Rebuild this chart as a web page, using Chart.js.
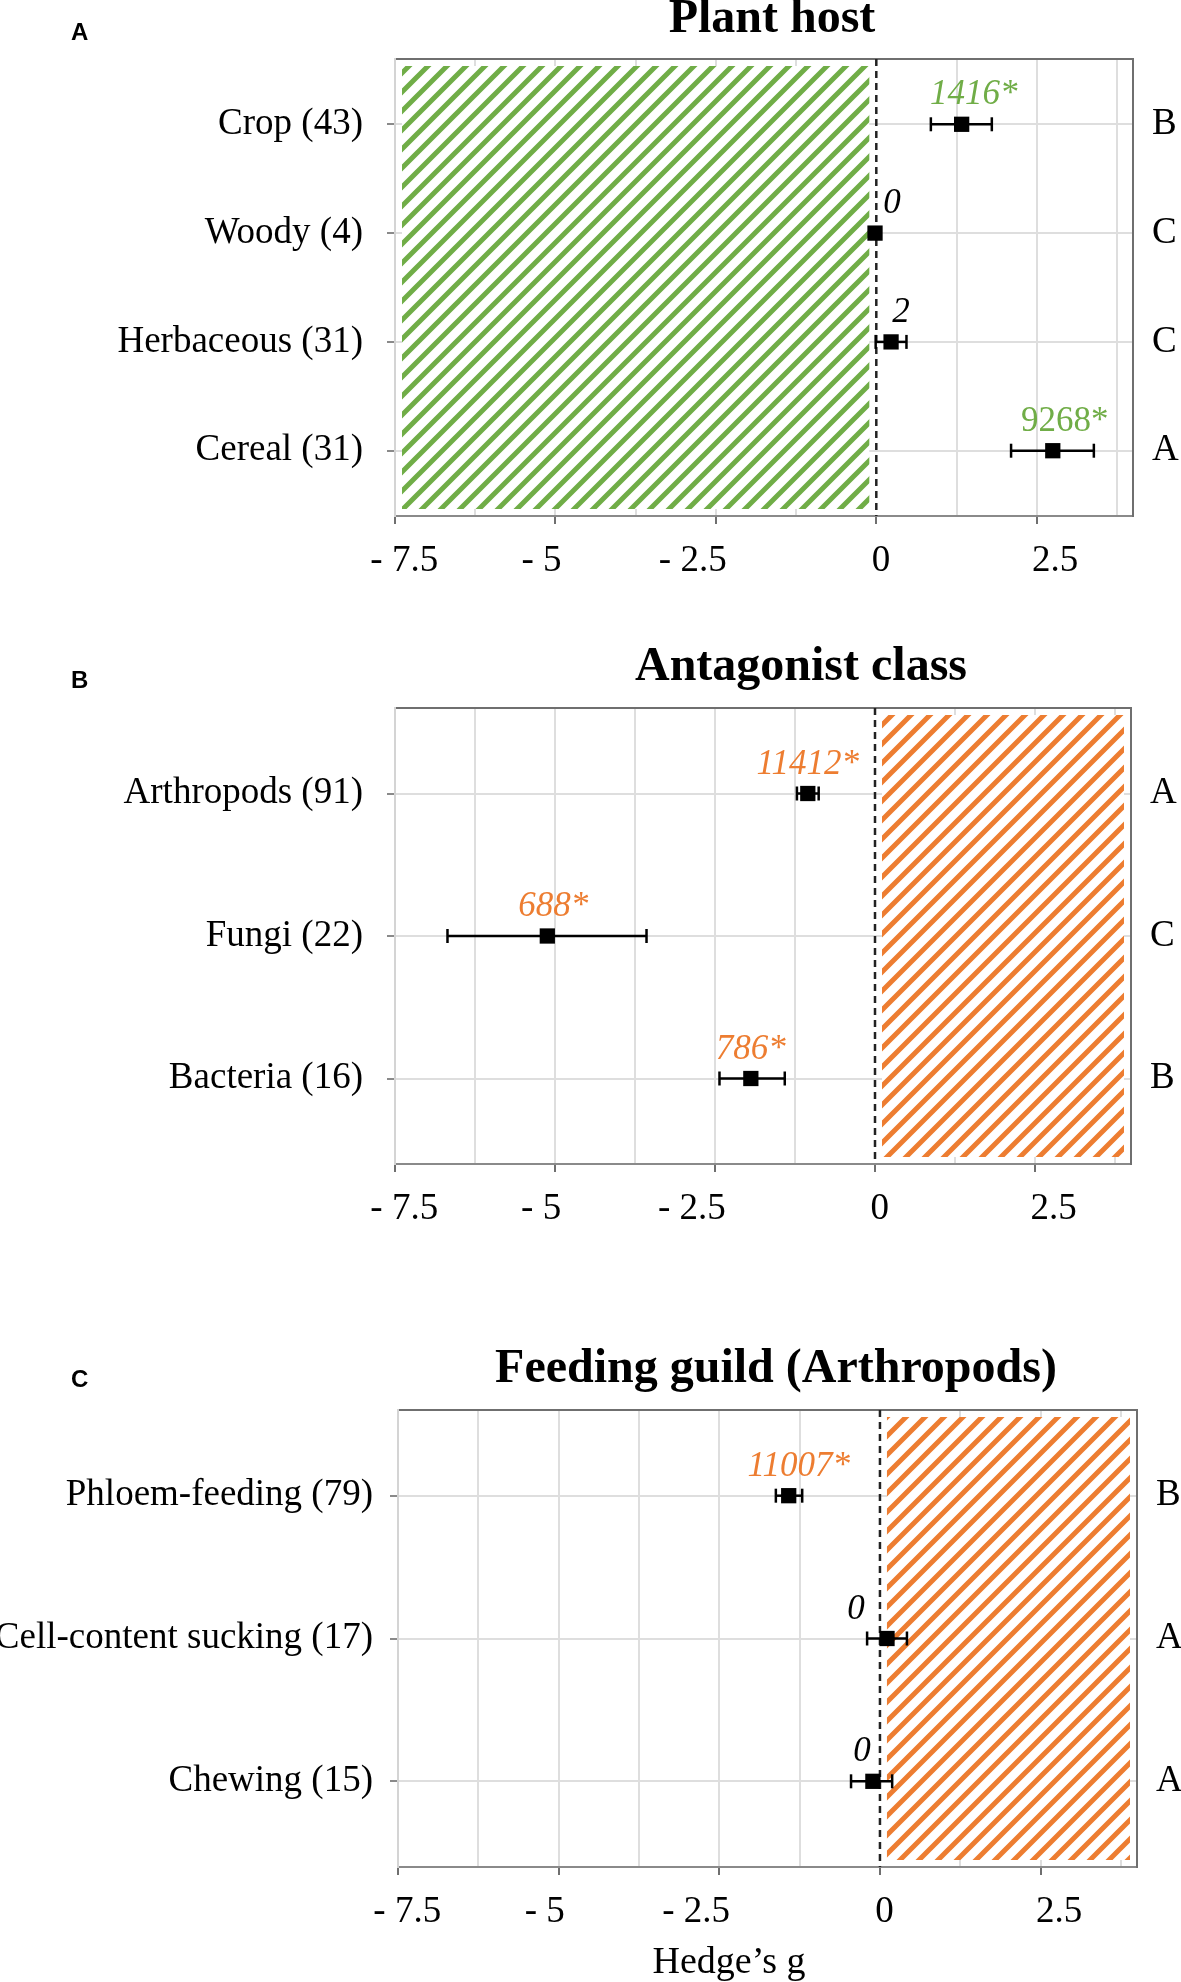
<!DOCTYPE html>
<html>
<head>
<meta charset="utf-8">
<script src="https://cdn.jsdelivr.net/npm/chart.js@4.4.1/dist/chart.umd.min.js"></script>
<style>
    body { margin: 0; background: #fff; width: 1181px; height: 1982px; position: relative; overflow: hidden; }
    canvas { position: absolute; left: 0; }
</style>
</head>
<body>
<canvas id="panelA" width="1181" height="600" style="top:0px"></canvas>
<canvas id="panelB" width="1181" height="640" style="top:600px"></canvas>
<canvas id="panelC" width="1181" height="742" style="top:1240px"></canvas>
<script>
// A - Plant host
const hostCats = ['Crop (43)', 'Woody (4)', 'Herbaceous (31)', 'Cereal (31)'];
const hostG = [1.33, -0.02, 0.23, 2.75];
const hostLo = [0.85, -0.08, -0.01, 2.10];
const hostHi = [1.80, 0.04, 0.47, 3.39];
const hostCounts = ['1416*', '0', '2', '9268*'];
const hostLetters = ['B', 'C', 'C', 'A'];
const hostShade = [-7.5, 0];

// B - Antagonist class
const antCats = ['Arthropods (91)', 'Fungi (22)', 'Bacteria (16)'];
const antG = [-1.05, -5.12, -1.94];
const antLo = [-1.22, -6.68, -2.43];
const antHi = [-0.88, -3.57, -1.41];
const antCounts = ['11412*', '688*', '786*'];
const antLetters = ['A', 'C', 'B'];
const antShade = [0, 4];

// C - Feeding guild (Arthropods)
const guildCats = ['Phloem-feeding (79)', 'Cell-content sucking (17)', 'Chewing (15)'];
const guildG = [-1.42, 0.11, -0.11];
const guildLo = [-1.62, -0.20, -0.45];
const guildHi = [-1.21, 0.42, 0.19];
const guildCounts = ['11007*', '0', '0'];
const guildLetters = ['B', 'A', 'A'];
const guildShade = [0, 4];

// shared x axis
const xTicks = [-7.5, -6.25, -5, -3.75, -2.5, -1.25, 0, 1.25, 2.5, 3.75];
const xTickLabels = ['- 7.5', '', '- 5', '', '- 2.5', '', '0', '', '2.5', ''];
const xMin = -7.5;
const xMax = 4;
const refLine = 0;

const SERIF = '"Liberation Serif", "Times New Roman", serif';
const SANS = '"Liberation Sans", Arial, sans-serif';
const GREEN = '#70ad47';
const ORANGE = '#ed7d31';
const GRID = '#dedede';

// the labels in the original sit a little off their ticks (in px, + is right)
const labelNudge = [8, 0, -12, 0, -23, 0, 4, 0, 20, 0];
const NBSP = '\u00a0';

function isMajor(v) {
    return Math.abs(v / 2.5 - Math.round(v / 2.5)) < 1e-9;
}

function tickText(i) {
    const t = xTickLabels[i];
    if (!t) return '';
    const k = Math.round(Math.abs(labelNudge[i]) * 2 / 9.25);
    const pad = NBSP.repeat(k);
    return labelNudge[i] > 0 ? pad + t : t + pad;
}

function hatchPattern(ctx, color) {
    const P = 19;
    const tile = document.createElement('canvas');
    tile.width = P;
    tile.height = P;
    const c = tile.getContext('2d');
    c.strokeStyle = color;
    c.lineWidth = 5;
    c.beginPath();
    // lines x + y = k
    [0, P, 2 * P].forEach(k => {
        c.moveTo(k - P - 2, P + 2);
        c.lineTo(k + 2, -2);
    });
    c.stroke();
    return ctx.createPattern(tile, 'repeat');
}

function makePanel(id, p) {
    const canvas = document.getElementById(id);
    const W = canvas.width, H = canvas.height;
    const n = p.cats.length;
    const yMin = 0.4, yMax = n + 0.6;
    const rows = p.cats.map((c, i) => i + 1);

    const datasets = [];
    rows.forEach((r, i) => {
        datasets.push({
            type: 'line',
            showLine: true,
            data: [{ x: p.lo[i], y: r }, { x: p.hi[i], y: r }],
            borderColor: '#000',
            borderWidth: 2.5,
            pointStyle: 'line',
            pointRotation: 90,
            pointRadius: 7,
            pointBorderColor: '#000',
            pointBorderWidth: 2.5
        });
    });
    datasets.push({
        type: 'scatter',
        showLine: false,
        data: rows.map((r, i) => ({ x: p.g[i], y: r })),
        pointStyle: 'rect',
        pointRadius: 10.8,
        backgroundColor: '#000',
        borderColor: '#000',
        borderWidth: 0
    });
    datasets.push({
        type: 'line',
        showLine: true,
        data: [{ x: refLine, y: yMin }, { x: refLine, y: yMax }],
        borderColor: '#222',
        borderWidth: 2.5,
        borderDash: [7, 5],
        pointRadius: 0
    });

    const decor = {
        id: 'decor' + id,
        beforeDatasetsDraw(chart) {
            const ctx = chart.ctx, a = chart.chartArea, xs = chart.scales.x;
            const x1 = xs.getPixelForValue(p.shade[0]) + 7;
            const x2 = xs.getPixelForValue(p.shade[1]) - 7;
            ctx.save();
            ctx.fillStyle = '#fff';
            ctx.fillRect(x1, a.top + 7, x2 - x1, a.bottom - a.top - 14);
            ctx.fillStyle = hatchPattern(ctx, p.shadeColor);
            ctx.fillRect(x1, a.top + 7, x2 - x1, a.bottom - a.top - 14);
            ctx.restore();
        },
        afterDatasetsDraw(chart) {
            const ctx = chart.ctx, xs = chart.scales.x, ys = chart.scales.y;
            ctx.save();
            ctx.textAlign = 'center';
            ctx.textBaseline = 'alphabetic';
            p.counts.forEach((t, i) => {
                ctx.font = (p.countItalic[i] ? 'italic ' : '') + '35px ' + SERIF;
                ctx.fillStyle = p.countColors[i];
                ctx.fillText(t, xs.getPixelForValue(p.g[i]) + p.nudge[i], ys.getPixelForValue(i + 1) - 20);
            });
            ctx.restore();
        },
        afterDraw(chart) {
            const ctx = chart.ctx;
            ctx.save();
            ctx.fillStyle = '#000';
            ctx.textBaseline = 'alphabetic';
            ctx.textAlign = 'center';
            ctx.font = 'bold 48px ' + SERIF;
            ctx.fillText(p.title, p.titleX, p.titleY);
            ctx.textAlign = 'left';
            ctx.font = 'bold 24px ' + SANS;
            ctx.fillText(p.tag, 71, p.tagY);
            if (p.xLabel) {
                ctx.textAlign = 'center';
                ctx.font = '38px ' + SERIF;
                ctx.fillText(p.xLabel, 729, H - 9);
            }
            ctx.restore();
        }
    };

    const tickFont = { family: SERIF, size: 37 };

    new Chart(canvas, {
        type: 'scatter',
        data: { datasets: datasets },
        options: {
            responsive: false,
            animation: false,
            layout: { padding: { top: p.top, left: 0, right: 0, bottom: 0 }, autoPadding: false },
            plugins: { legend: { display: false }, tooltip: { enabled: false }, title: { display: false } },
            scales: {
                x: {
                    type: 'linear',
                    min: xMin,
                    max: xMax,
                    afterBuildTicks: s => { s.ticks = xTicks.concat([xMax]).map(v => ({ value: v })); },
                    afterFit: s => { s.height = H - p.bottom; },
                    grid: {
                        color: c => (c.tick && (c.tick.value === refLine || c.tick.value === xMax)) ? 'rgba(0,0,0,0)' : GRID,
                        lineWidth: 2,
                        tickLength: 8,
                        tickColor: c => (c.tick && isMajor(c.tick.value) && c.tick.value < xMax) ? '#6f6f6f' : 'rgba(0,0,0,0)'
                    },
                    border: { color: '#8a8a8a', width: 2 },
                    ticks: {
                        autoSkip: false,
                        maxRotation: 0,
                        padding: 15,
                        color: '#000',
                        font: tickFont,
                        callback: (v, i) => tickText(i)
                    }
                },
                xt: {
                    type: 'linear',
                    position: 'top',
                    min: xMin,
                    max: xMax,
                    afterFit: s => { s.height = 0; },
                    grid: { drawOnChartArea: false, drawTicks: false },
                    border: { color: '#6f6f6f', width: 2 },
                    ticks: { display: false }
                },
                y: {
                    type: 'linear',
                    position: 'left',
                    reverse: true,
                    min: yMin,
                    max: yMax,
                    afterBuildTicks: s => { s.ticks = rows.map(v => ({ value: v })); },
                    afterFit: s => { s.width = p.left; },
                    grid: { color: GRID, lineWidth: 2, tickLength: 8, tickColor: '#8a8a8a' },
                    border: { color: '#d4d4d4', width: 2 },
                    ticks: {
                        autoSkip: false,
                        padding: p.catPad,
                        color: '#000',
                        font: tickFont,
                        callback: (v, i) => p.cats[i]
                    }
                },
                yr: {
                    type: 'linear',
                    position: 'right',
                    reverse: true,
                    min: yMin,
                    max: yMax,
                    afterBuildTicks: s => { s.ticks = rows.map(v => ({ value: v })); },
                    afterFit: s => { s.width = W - p.right; },
                    grid: { drawOnChartArea: false, drawTicks: false },
                    border: { color: '#6f6f6f', width: 2 },
                    ticks: {
                        autoSkip: false,
                        padding: 19,
                        color: '#000',
                        font: tickFont,
                        callback: (v, i) => p.letters[i]
                    }
                }
            }
        },
        plugins: [decor]
    });
}

makePanel('panelA', {
    cats: hostCats, g: hostG, lo: hostLo, hi: hostHi,
    counts: hostCounts, letters: hostLetters, shade: hostShade,
    shadeColor: GREEN,
    countColors: [GREEN, '#000', '#000', GREEN],
    countItalic: [true, true, true, false],
    nudge: [12, 17, 10, 12],
    title: 'Plant host', titleX: 772, titleY: 32,
    tag: 'A', tagY: 40,
    left: 395, right: 1133, top: 59, bottom: 516, catPad: 24
});

makePanel('panelB', {
    cats: antCats, g: antG, lo: antLo, hi: antHi,
    counts: antCounts, letters: antLetters, shade: antShade,
    shadeColor: ORANGE,
    countColors: [ORANGE, ORANGE, ORANGE],
    countItalic: [true, true, true],
    nudge: [0, 6, 0],
    title: 'Antagonist class', titleX: 801, titleY: 80,
    tag: 'B', tagY: 88,
    left: 395, right: 1131, top: 108, bottom: 564, catPad: 24
});

makePanel('panelC', {
    cats: guildCats, g: guildG, lo: guildLo, hi: guildHi,
    counts: guildCounts, letters: guildLetters, shade: guildShade,
    shadeColor: ORANGE,
    countColors: [ORANGE, '#000', '#000'],
    countItalic: [true, true, true],
    nudge: [10, -31, -11],
    title: 'Feeding guild (Arthropods)', titleX: 776, titleY: 142,
    tag: 'C', tagY: 147,
    xLabel: 'Hedge\u2019s g',
    left: 398, right: 1137, top: 170, bottom: 627, catPad: 17
});
</script>
</body>
</html>
